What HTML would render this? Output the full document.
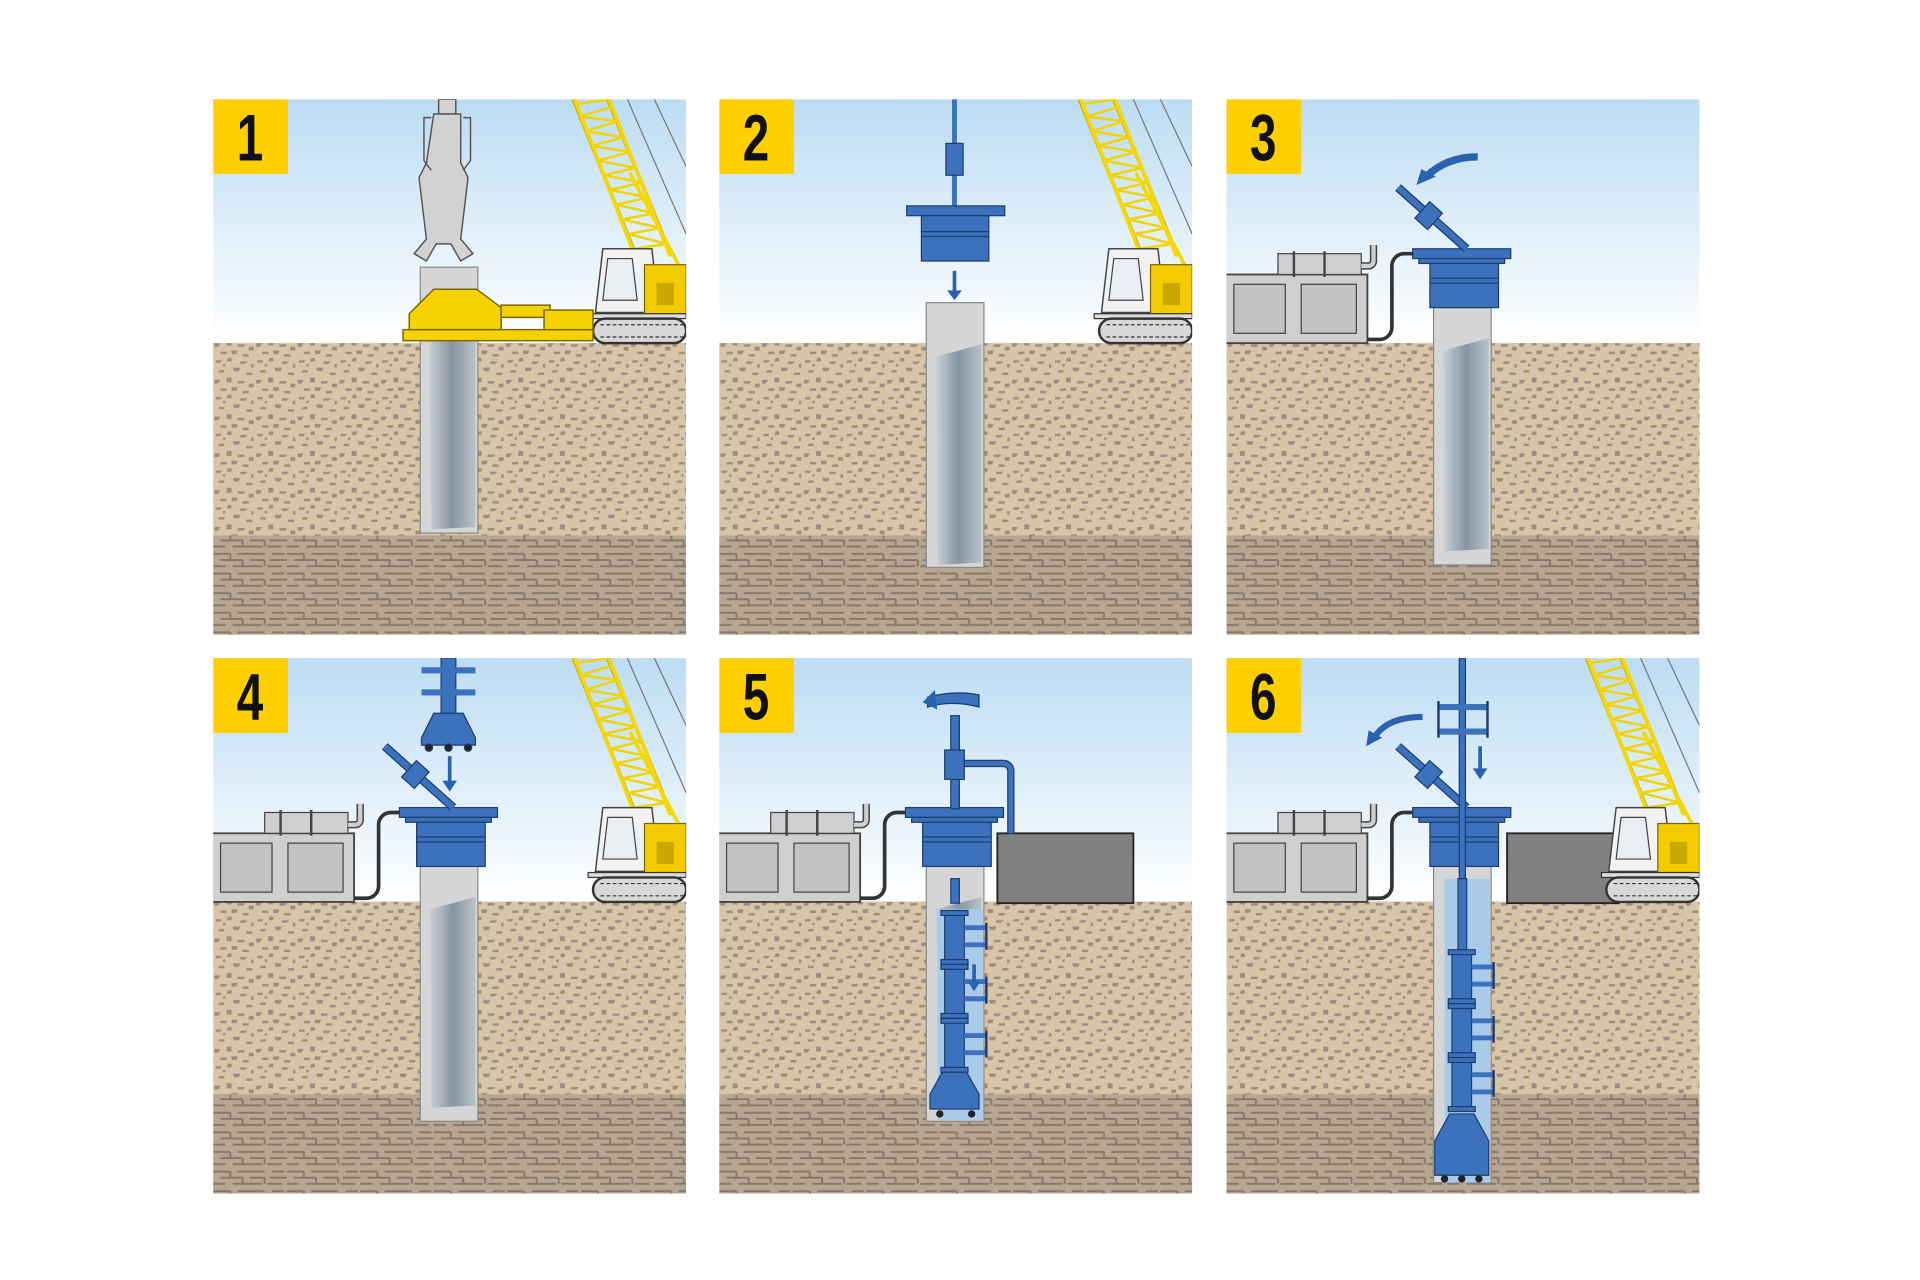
<!DOCTYPE html>
<html><head><meta charset="utf-8"><style>html,body{margin:0;padding:0;background:#fff}svg{display:block}</style></head>
<body>
<svg width="1920" height="1280" viewBox="0 0 1567 1044.5" preserveAspectRatio="none" xmlns="http://www.w3.org/2000/svg">
<defs>
<linearGradient id="sky" x1="0" y1="0" x2="0" y2="1"><stop offset="0" stop-color="#bcdcf3"/><stop offset="0.455" stop-color="#ffffff"/><stop offset="0.455" stop-color="#d8c5a8"/></linearGradient>
<linearGradient id="inner" x1="0" y1="0" x2="1" y2="0"><stop offset="0" stop-color="#c9d0d6"/><stop offset="0.5" stop-color="#8595a2"/><stop offset="1" stop-color="#b9c2c9"/></linearGradient>
<pattern id="sand" width="34" height="30" patternUnits="userSpaceOnUse">
<rect width="34" height="30" fill="#d8c5a8"/>
<g fill="#9c8b80"><path d="M2 3h5l-1 2h-4z"/><path d="M12 1h3v3h-4z"/><path d="M22 4h6l-2 2h-4z"/><path d="M5 11h4v2h-5z"/><path d="M16 9h6l-1 3h-4z"/><path d="M27 13h5v2h-5z"/><path d="M1 19h5l-2 3h-3z"/><path d="M11 17h4v4h-4z"/><path d="M20 20h6l-1 2h-5z"/><path d="M29 22h4v3h-4z"/><path d="M6 26h5v2h-5z"/><path d="M15 25h5l-1 3h-4z"/><path d="M24 28h5v2h-5z"/><path d="M31 6h2v3h-2z"/><path d="M8 6h2v2h-2z"/></g></pattern>
<pattern id="rock" width="60" height="16" patternUnits="userSpaceOnUse">
<rect width="60" height="16" fill="#b7a690"/>
<g stroke="#85776c" stroke-width="1.6" fill="none"><path d="M0 3h14M20 3h22M48 3h10"/><path d="M6 8h18M30 8h12M46 8h14"/><path d="M0 13h10M16 13h24M44 13h12"/><path d="M14 3v5M42 8v5M24 8v5"/></g></pattern>
<g id="crane">
<g stroke="#c9a800" stroke-width="3" fill="none"><path d="M294 0L348 135"/><path d="M322 0L374 128"/></g>
<g stroke="#f0d300" stroke-width="2" fill="none"><path d="M296 4L324 0M300 14L326 6M299 14L330 18M304 26L330 18M304 26L335 31M309 38L335 31M309 38L340 43M314 50L340 43M314 50L345 56M319 62L345 56M319 62L350 68M324 74L350 68M324 74L355 80M329 86L355 80M329 86L360 93M334 98L360 93M334 98L365 105M339 110L365 105M339 110L370 118M344 122L370 118"/></g>
<g stroke="#f5d800" stroke-width="3"><path d="M295 0L347 135"/><path d="M323 0L373 128"/><path d="M340 60L385 145"/></g>
<g stroke="#777" stroke-width="1"><path d="M338 0L386 110"/><path d="M360 0L386 55"/></g>
<path d="M318 122h40l6 52h-52z" fill="#f2f2f2" stroke="#444" stroke-width="1.2"/>
<path d="M322 130h20l4 34h-28z" fill="#e8eef2" stroke="#444"/>
<rect x="352" y="135" width="34" height="42" fill="#f2cc00" stroke="#7a6500"/>
<rect x="362" y="150" width="14" height="18" fill="#c9a800"/>
<rect x="306" y="175" width="80" height="4" fill="#ddd" stroke="#333"/>
<rect x="310" y="179" width="76" height="20" rx="10" fill="#d8d8d8" stroke="#333" stroke-width="2"/>
<path d="M316 184h70M316 194h70" stroke="#333" stroke-dasharray="3 2"/>
</g>
<g id="pack">
<rect x="-2" y="143" width="117" height="56" fill="#cfcfcf" stroke="#444" stroke-width="1.5"/>
<rect x="6" y="151" width="42" height="40" fill="#c2c2c2" stroke="#444"/>
<rect x="61" y="151" width="45" height="40" fill="#c2c2c2" stroke="#444"/>
<rect x="42" y="126" width="68" height="17" fill="#cfcfcf" stroke="#444"/>
<path d="M55 124v21M80 124v21" stroke="#444" stroke-width="2"/>
<path d="M110 136h6a4 4 0 0 0 4-4v-13" fill="none" stroke="#444" stroke-width="6"/>
<path d="M110 136h6a4 4 0 0 0 4-4v-13" fill="none" stroke="#cfcfcf" stroke-width="3.5"/>
<path d="M115 196h10a10 10 0 0 0 10-10v-50a10 10 0 0 1 10-10h10" fill="none" stroke="#333" stroke-width="3"/>
</g>
<g id="head">
<rect x="152" y="122" width="80" height="8" fill="#3c72bd" stroke="#1d3d6b"/>
<rect x="157" y="130" width="70" height="4" fill="#3c72bd" stroke="#1d3d6b"/>
<rect x="166" y="134" width="56" height="36" fill="#3c72bd" stroke="#1d3d6b"/>
<path d="M166 146h56M166 150h56" stroke="#1d3d6b"/>
</g>
<g id="lid">
<path d="M140 72L196 122" stroke="#1d3d6b" stroke-width="7"/>
<path d="M140 72L196 122" stroke="#3c72bd" stroke-width="5"/>
<rect x="158" y="86" width="14" height="18" fill="#3c72bd" stroke="#1d3d6b" transform="rotate(42 165 95)"/>
</g>
<clipPath id="cp"><rect width="386" height="437"/></clipPath>
<g id="bg">
<rect width="386" height="437" fill="url(#sky)"/>
<rect y="199" width="386" height="158" fill="url(#sand)"/>
<rect y="356" width="386" height="81" fill="url(#rock)"/>
</g>
<g id="drillseg" fill="#3c72bd" stroke="#1d3d6b">
<rect x="-8" y="0" width="16" height="40"/>
<rect x="-11" y="-2" width="22" height="4"/>
<rect x="-11" y="38" width="22" height="4"/>
<path d="M8 12h18M8 26h18" stroke-width="4" stroke="#3c72bd"/>
<path d="M26 8v22" stroke="#1d3d6b" stroke-width="2"/>
</g>
<g id="lbl"><rect x="0" y="0" width="61" height="61" fill="#ffcf00"/></g>
</defs>
<rect width="1567" height="1045" fill="#fff"/>

<!-- Panel 1 -->
<g transform="translate(174,81)" clip-path="url(#cp)">
<use href="#bg"/>
<rect x="169" y="137" width="47" height="217" fill="#d6d6d6" stroke="#8a8a8a"/>
<path d="M176 199l38-10v160l-36 2z" fill="url(#inner)"/>
<use href="#crane"/>
<g fill="#d2d2d2" stroke="#555" stroke-width="1.2">
<rect x="184" y="0" width="14" height="12"/>
<path d="M180 12h22v40l6 12-6 50l10 12-10 6-8-14h-12l-8 14-10-6 10-12-6-50 6-12z"/>
<path d="M178 15h-6v35l6 8M204 15h6v35l-6 8" fill="none"/>
</g>
<g fill="#f5d200" stroke="#7a6500" stroke-width="1.2">
<rect x="155" y="188" width="155" height="9"/>
<path d="M160 175l20-20h35l20 15v18h-75z"/>
<rect x="235" y="168" width="40" height="10"/>
<rect x="270" y="172" width="40" height="16"/>
</g>
<use href="#lbl"/>
<text x="0" y="0" font-family="Liberation Sans, sans-serif" font-weight="bold" font-size="54" text-anchor="middle" fill="#111" transform="translate(30,50) scale(0.72,1)">1</text>
</g>

<!-- Panel 2 -->
<g transform="translate(587,81)" clip-path="url(#cp)">
<use href="#bg"/>
<rect x="169" y="166" width="47" height="216" fill="#d6d6d6" stroke="#8a8a8a"/>
<path d="M177 210l37-10v178l-36 2z" fill="url(#inner)"/>
<use href="#crane"/>
<rect x="190" y="0" width="4" height="88" fill="#3c72bd"/>
<rect x="185" y="36" width="14" height="26" fill="#3c72bd" stroke="#1d3d6b"/>
<rect x="153" y="87" width="80" height="8" fill="#3c72bd" stroke="#1d3d6b"/>
<rect x="165" y="95" width="55" height="37" fill="#3c72bd" stroke="#1d3d6b"/>
<path d="M165 108h55M165 112h55" stroke="#1d3d6b"/>
<path d="M192 140v18" stroke="#2a62b0" stroke-width="3"/><path d="M186 156h12l-6 8z" fill="#2a62b0"/>
<use href="#lbl"/>
<text x="0" y="0" font-family="Liberation Sans, sans-serif" font-weight="bold" font-size="54" text-anchor="middle" fill="#111" transform="translate(30,50) scale(0.72,1)">2</text>
</g>

<!-- Panel 3 -->
<g transform="translate(1001,81)" clip-path="url(#cp)">
<use href="#bg"/>
<use href="#pack"/>
<rect x="169" y="170" width="47" height="210" fill="#d6d6d6" stroke="#8a8a8a"/>
<path d="M177 205l37-10v172l-36 2z" fill="url(#inner)"/>
<use href="#head"/>
<use href="#lid"/>
<path d="M205 47q-25 0-42 16" stroke="#2a62b0" stroke-width="6" fill="none"/><path d="M155 70l4-13 12 6z" fill="#2a62b0"/>
<use href="#lbl"/>
<text x="0" y="0" font-family="Liberation Sans, sans-serif" font-weight="bold" font-size="54" text-anchor="middle" fill="#111" transform="translate(30,50) scale(0.72,1)">3</text>
</g>

<!-- Panel 4 -->
<g transform="translate(174,537)" clip-path="url(#cp)">
<use href="#bg"/>
<use href="#pack"/>
<rect x="169" y="170" width="47" height="208" fill="#d6d6d6" stroke="#8a8a8a"/>
<path d="M177 205l37-10v170l-36 2z" fill="url(#inner)"/>
<use href="#head"/>
<use href="#lid"/>
<use href="#crane"/>
<g fill="#3c72bd" stroke="#1d3d6b">
<rect x="186" y="0" width="12" height="45"/>
<path d="M170 10h44M170 28h44" stroke="#3c72bd" stroke-width="5"/>
<path d="M180 45h24l10 20v6h-44v-6z"/>
<circle cx="176" cy="73" r="3" fill="#222"/><circle cx="192" cy="73" r="3" fill="#222"/><circle cx="208" cy="73" r="3" fill="#222"/>
</g>
<path d="M193 80v22" stroke="#2a62b0" stroke-width="3"/><path d="M187 100h12l-6 9z" fill="#2a62b0"/>
<use href="#lbl"/>
<text x="0" y="0" font-family="Liberation Sans, sans-serif" font-weight="bold" font-size="54" text-anchor="middle" fill="#111" transform="translate(30,50) scale(0.72,1)">4</text>
</g>

<!-- Panel 5 -->
<g transform="translate(587,537)" clip-path="url(#cp)">
<use href="#bg"/>
<use href="#pack"/>
<rect x="227" y="143" width="111" height="57" fill="#808080" stroke="#222" stroke-width="1.5"/>
<path d="M200 86h32a6 6 0 0 1 6 6v51" fill="none" stroke="#1d3d6b" stroke-width="6"/>
<path d="M200 86h32a6 6 0 0 1 6 6v51" fill="none" stroke="#3c72bd" stroke-width="4"/>
<rect x="169" y="170" width="47" height="208" fill="#d6d6d6" stroke="#8a8a8a"/>
<path d="M177 205l37-10v38l-37 0z" fill="url(#inner)"/>
<rect x="178" y="205" width="37" height="172" fill="#a9cbe9"/>
<use href="#head"/>
<rect x="189" y="47" width="7" height="76" fill="#3c72bd" stroke="#1d3d6b"/>
<rect x="184" y="75" width="16" height="24" fill="#3c72bd" stroke="#1d3d6b"/>
<path d="M212 30q-20-4-42 2v8q20-6 42 0z" fill="#3c72bd" stroke="#1d3d6b"/><path d="M176 26l-10 10 12 6z" fill="#2a62b0"/>
<rect x="189" y="180" width="7" height="20" fill="#3c72bd" stroke="#1d3d6b"/>
<use href="#drillseg" transform="translate(192,208)"/>
<use href="#drillseg" transform="translate(192,252)"/>
<use href="#drillseg" transform="translate(192,296)"/>
<path d="M182 338h20l10 18v12h-40v-12z" fill="#3c72bd" stroke="#1d3d6b"/>
<circle cx="180" cy="372" r="3" fill="#222"/><circle cx="206" cy="372" r="3" fill="#222"/>
<path d="M208 250v16" stroke="#2a62b0" stroke-width="3"/><path d="M203 264h10l-5 8z" fill="#2a62b0"/>
<use href="#lbl"/>
<text x="0" y="0" font-family="Liberation Sans, sans-serif" font-weight="bold" font-size="54" text-anchor="middle" fill="#111" transform="translate(30,50) scale(0.72,1)">5</text>
</g>

<!-- Panel 6 -->
<g transform="translate(1001,537)" clip-path="url(#cp)">
<use href="#bg"/>
<use href="#pack"/>
<rect x="229" y="143" width="91" height="57" fill="#808080" stroke="#222" stroke-width="1.5"/>
<use href="#crane"/>
<rect x="169" y="170" width="47" height="258" fill="#d6d6d6" stroke="#8a8a8a"/>
<rect x="178" y="180" width="37" height="248" fill="#a9cbe9"/>
<use href="#head"/>
<use href="#lid"/>
<rect x="190" y="0" width="5" height="180" fill="#3c72bd" stroke="#1d3d6b"/>
<path d="M173 40h40M173 60h40" stroke="#3c72bd" stroke-width="5"/>
<path d="M173 35v30M213 35v30" stroke="#1d3d6b" stroke-width="2"/>
<rect x="189" y="180" width="7" height="60" fill="#3c72bd" stroke="#1d3d6b"/>
<use href="#drillseg" transform="translate(192,240)"/>
<use href="#drillseg" transform="translate(192,284)"/>
<use href="#drillseg" transform="translate(192,328)"/>
<path d="M182 372h20l12 22v28h-44v-28z" fill="#3c72bd" stroke="#1d3d6b"/>
<circle cx="178" cy="425" r="3" fill="#222"/><circle cx="192" cy="425" r="3" fill="#222"/><circle cx="206" cy="425" r="3" fill="#222"/>
<path d="M160 48q-30 0-40 18" stroke="#2a62b0" stroke-width="5" fill="none"/><path d="M114 72l2-13 11 6z" fill="#2a62b0"/>
<path d="M207 72v20" stroke="#2a62b0" stroke-width="3"/><path d="M201 90h12l-6 9z" fill="#2a62b0"/>
<use href="#lbl"/>
<text x="0" y="0" font-family="Liberation Sans, sans-serif" font-weight="bold" font-size="54" text-anchor="middle" fill="#111" transform="translate(30,50) scale(0.72,1)">6</text>
</g>
</svg>
</body></html>
